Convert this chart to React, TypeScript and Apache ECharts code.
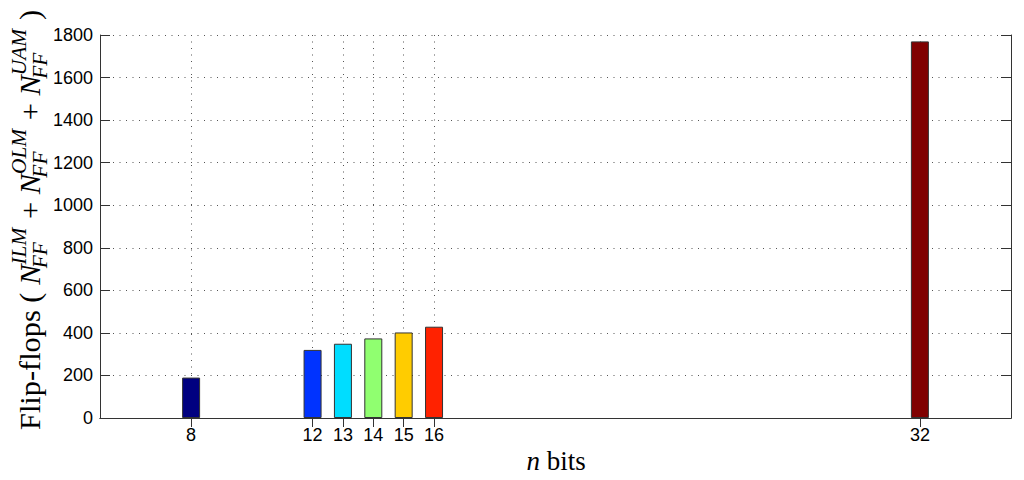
import React, { useEffect, useRef } from "react";
import * as echarts from "echarts";

// ---- data ----
const bitWidths = [8, 12, 13, 14, 15, 16, 32];
const flipFlops = [190, 320, 349, 374, 402, 429, 1770];
const barColors = ["#000080", "#0033FF", "#00DDFF", "#90FF70", "#FFCC00", "#FF2200", "#800000"];
const xRange = [5, 35];
const yRange = [0, 1800];
const yStep = 200;

const SERIF = '"Liberation Serif", "Times New Roman", serif';
const SANS = '"Liberation Sans", Arial, Helvetica, sans-serif';

function buildYLabel() {
  const canvas = document.createElement("canvas");
  const ctx = canvas.getContext("2d") as CanvasRenderingContext2D;
  const main = 27;
  const script = 19;
  const measure = (t: string, size: number, italic: boolean) => {
    ctx.font = `${italic ? "italic " : ""}${size}px ${SERIF}`;
    return ctx.measureText(t).width;
  };
  const children: any[] = [];
  let x = 0;
  const put = (t: string, size: number, italic: boolean, baseY: number, px: number) => {
    children.push({
      type: "text",
      x: px,
      y: baseY - 0.34 * size,
      style: {
        text: t,
        font: `${italic ? "italic " : ""}${size}px ${SERIF}`,
        fill: "#000",
        align: "left",
        verticalAlign: "middle",
      },
    });
    return measure(t, size, italic);
  };
  x += put("Flip-flops ( ", main, false, 0, x);
  const terms = ["ILM", "OLM", "UAM"];
  terms.forEach((sup, i) => {
    x += put("N", main, true, 0, x);
    const w1 = put(sup, script, true, -0.45 * main, x);
    const w2 = put("FF", script, true, 0.24 * main, x - 0.12 * main);
    x += Math.max(w1, w2 - 0.12 * main) + 1;
    if (i < terms.length - 1) x += put(" + ", main, false, 0, x);
  });
  x += put(" )", main, false, 0, x);
  return { children, total: x };
}

export default function App() {
  const ref = useRef<HTMLDivElement>(null);
  useEffect(() => {
    if (!ref.current) return;
    const chart = echarts.init(ref.current, null, { renderer: "svg" });
    const yl = buildYLabel();
    const span = 420;
    const s = span / yl.total;

    const axisLine = { show: true, lineStyle: { color: "#333", width: 1 } };
    const dotted = { show: true, lineStyle: { color: "#555", width: 1, type: [1, 5.5] } };
    const tickStyle = { color: "#333", width: 1 };

    chart.setOption({
      animation: false,
      backgroundColor: "#fff",
      grid: { left: 100, right: 13, top: 35, bottom: 62, containLabel: false },
      xAxis: [
        {
          type: "value",
          position: "bottom",
          min: xRange[0],
          max: xRange[1],
          axisLine,
          axisTick: { show: true, inside: true, length: 9, customValues: bitWidths, lineStyle: tickStyle },
          axisLabel: {
            show: true,
            customValues: bitWidths,
            fontSize: 18,
            color: "#000",
            fontFamily: SANS,
            margin: 8,
            formatter: (v: number) => String(v),
          },
          splitLine: dotted,
        },
        {
          type: "value",
          position: "top",
          min: xRange[0],
          max: xRange[1],
          axisLine,
          axisTick: { show: true, inside: true, length: 9, customValues: bitWidths, lineStyle: tickStyle },
          axisLabel: { show: false },
          splitLine: { show: false },
        },
      ],
      yAxis: [
        {
          type: "value",
          position: "left",
          min: yRange[0],
          max: yRange[1],
          interval: yStep,
          axisLine,
          axisTick: { show: true, inside: true, length: 10, lineStyle: tickStyle },
          axisLabel: {
            fontSize: 18,
            color: "#000",
            fontFamily: SANS,
            margin: 7,
            formatter: (v: number) => String(v),
          },
          splitLine: dotted,
        },
        {
          type: "value",
          position: "right",
          min: yRange[0],
          max: yRange[1],
          interval: yStep,
          axisLine,
          axisTick: { show: true, inside: true, length: 10, lineStyle: tickStyle },
          axisLabel: { show: false },
          splitLine: { show: false },
        },
      ],
      series: [
        {
          type: "bar",
          xAxisIndex: 0,
          yAxisIndex: 0,
          barWidth: 18,
          data: bitWidths.map((b, i) => ({
            value: [b, flipFlops[i]],
            itemStyle: { color: barColors[i], borderColor: "#333", borderWidth: 1 },
          })),
        },
      ],
      graphic: [
        {
          type: "group",
          x: 40,
          y: 430,
          rotation: Math.PI / 2,
          scaleX: s,
          scaleY: s,
          children: yl.children,
        },
        {
          type: "text",
          x: 556,
          y: 461,
          style: {
            text: "{i|n} bits",
            font: `27px ${SERIF}`,
            fill: "#000",
            align: "center",
            verticalAlign: "middle",
            rich: { i: { fontStyle: "italic", fontSize: 27, fontFamily: SERIF } },
          },
        },
      ],
    });
    return () => chart.dispose();
  }, []);
  return (
    <div
      ref={ref}
      style={{ position: "absolute", left: 0, top: 0, width: 1024, height: 480 }}
    />
  );
}
